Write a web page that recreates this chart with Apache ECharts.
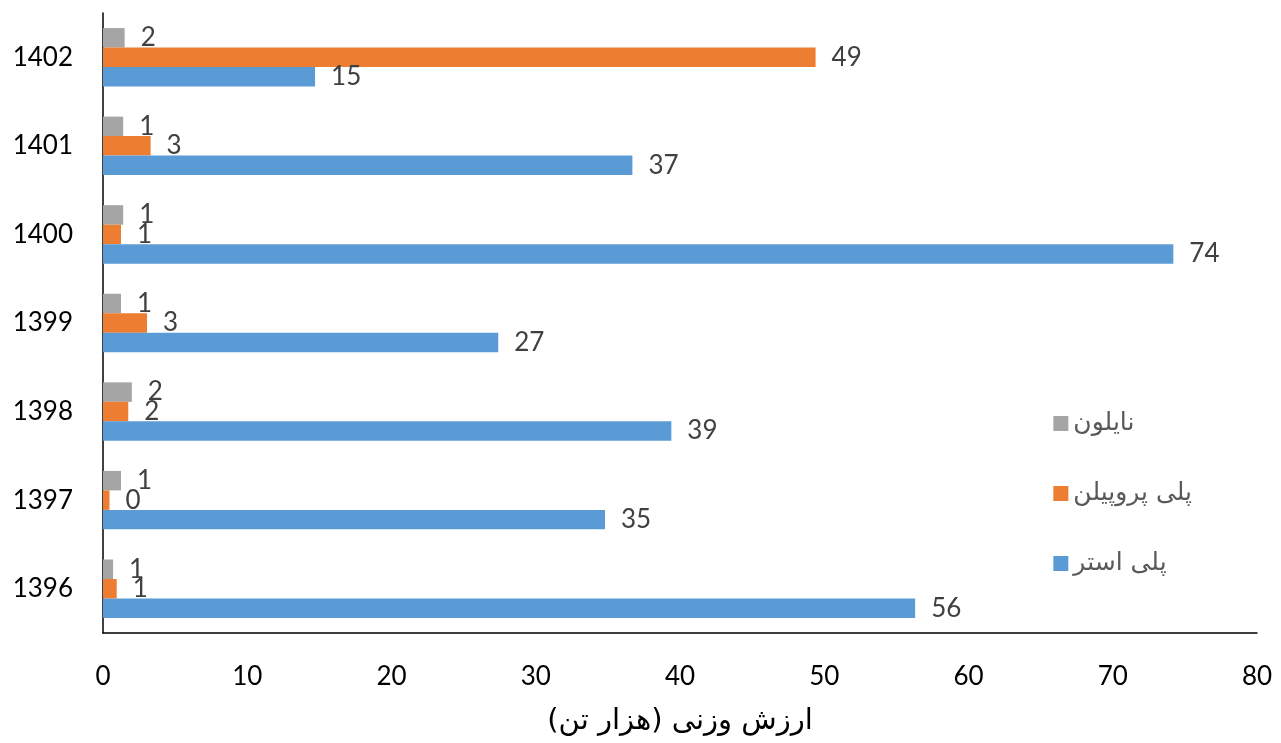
<!DOCTYPE html>
<html>
<head>
<meta charset="utf-8">
<script src="https://cdn.jsdelivr.net/npm/echarts@6/dist/echarts.min.js"></script>
<style>
html,body{margin:0;padding:0;background:#fff;}
#chart{width:1281px;height:743px;}
</style>
</head>
<body>
<div id="chart"></div>
<script>
var categories = ['1396','1397','1398','1399','1400','1401','1402'];
var polyester = [56.3, 34.8, 39.4, 27.4, 74.2, 36.7, 14.7];
var polypropylene = [0.95, 0.45, 1.75, 3.05, 1.25, 3.3, 49.4];
var nylon = [0.7, 1.25, 2.0, 1.25, 1.4, 1.4, 1.5];
var seriesNames = ['پلی استر', 'پلی پروپیلن', 'نایلون'];
var xTicks = {min: 0, max: 80, interval: 10};
var axisTitle = 'ارزش وزنی (هزار تن)';

var chart = echarts.init(document.getElementById('chart'));
var labelOpt = {
  show: true, position: 'right', distance: 16,
  color: '#404040', fontSize: 26, fontFamily: 'Lato',
  formatter: function (p) { return Math.round(p.value); }
};
function mk(name, data, color) {
  return {
    name: name, type: 'bar', data: data,
    barGap: '0%', barCategoryGap: '34%',
    itemStyle: {color: color},
    label: labelOpt
  };
}
chart.setOption({
  animation: false,
  grid: {left: 103, right: 24, top: 13, bottom: 110, containLabel: false, outerBoundsMode: 'none'},
  legend: {
    orient: 'vertical', right: 84, top: 406,
    data: [seriesNames[2], seriesNames[1], seriesNames[0]],
    itemWidth: 15, itemHeight: 15, itemGap: 45, icon: 'rect',
    textStyle: {fontSize: 25, color: '#595959', fontFamily: 'DejaVu Sans'}
  },
  xAxis: {
    type: 'value', min: xTicks.min, max: xTicks.max, interval: xTicks.interval,
    axisLine: {show: true, lineStyle: {color: '#000', width: 1.5}},
    axisTick: {show: false},
    splitLine: {show: false},
    axisLabel: {color: '#000', fontSize: 26, fontFamily: 'Lato', margin: 31},
    name: axisTitle, nameLocation: 'middle', nameGap: 74,
    nameTextStyle: {color: '#000', fontSize: 29, fontFamily: 'DejaVu Sans'}
  },
  yAxis: {
    type: 'category', data: categories,
    axisLine: {show: true, lineStyle: {color: '#000', width: 1.5}},
    axisTick: {show: false},
    axisLabel: {color: '#000', fontSize: 26, fontFamily: 'Lato', margin: 30}
  },
  series: [
    mk(seriesNames[2], nylon, '#A5A5A5'),
    mk(seriesNames[1], polypropylene, '#ED7D31'),
    mk(seriesNames[0], polyester, '#5B9BD5')
  ]
});
</script>
</body>
</html>
